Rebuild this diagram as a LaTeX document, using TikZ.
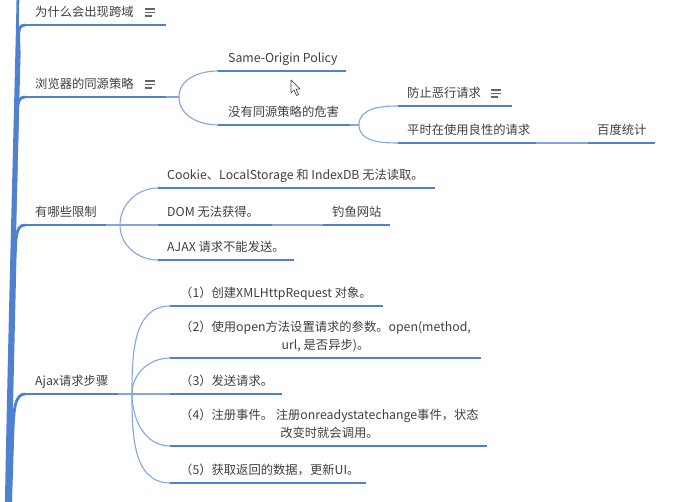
\documentclass[tikz,border=0pt]{standalone}
\usepackage{fontspec}
\setmainfont{Noto Sans CJK SC}
\definecolor{thickc}{RGB}{78,130,208}
\definecolor{thinc}{RGB}{132,166,222}
\definecolor{txtc}{RGB}{64,64,64}
\begin{document}
\begin{tikzpicture}[x=1pt,y=-1pt,
  lbl/.style={anchor=south west,inner sep=0pt,text depth=3pt,text=txtc,font=\fontsize{12.3}{18}\selectfont,align=center},
  under/.style={draw=thickc,line width=2.8pt},
  link/.style={draw=thinc,line width=1.1pt},
  trunk/.style={draw=thickc,line width=2.8pt},
  menuicon/.pic={\draw[line width=1.2pt,draw=black!60] (0,-16)--(10,-16) (0,-12.5)--(10,-12.5) (0,-9)--(7,-9);}
]
\useasboundingbox (0,0) rectangle (676,502);
\fill[white] (0,0) rectangle (676,502);
\begin{scope}
\clip (0,0) rectangle (676,502);
% ---------- coordinates ----------
\coordinate (b1s) at (25,25);  \coordinate (b1e) at (166,25);
\coordinate (b2s) at (25,97);  \coordinate (b2e) at (166,97);  \coordinate (j2) at (179,97);
\coordinate (b3s) at (25,225); \coordinate (b3e) at (106,225); \coordinate (j3) at (120,225);
\coordinate (b4s) at (25,394); \coordinate (b4e) at (118,394); \coordinate (j4) at (132,394);
\coordinate (k1) at (19,60);   \coordinate (r1) at (7,520);
\coordinate (k2) at (17,132);  \coordinate (r2) at (8,520);
\coordinate (k3) at (15,260);  \coordinate (r3) at (9,520);
\coordinate (k4) at (13,429);  \coordinate (r4) at (10,520);
\coordinate (top) at (18,-5);  \coordinate (r0) at (6,520);
% level 2 under branch 2
\coordinate (c21s) at (218,71);  \coordinate (c21e) at (346,71);
\coordinate (c22s) at (218,125); \coordinate (c22e) at (350,125); \coordinate (j22) at (359,125);
\coordinate (c221s) at (398,106); \coordinate (c221e) at (512,106);
\coordinate (c222s) at (398,143); \coordinate (c222e) at (536,143);
\coordinate (c223s) at (588,143); \coordinate (c223e) at (655,143);
% branch 3
\coordinate (c31s) at (158,188); \coordinate (c31e) at (435,188);
\coordinate (c32s) at (158,225); \coordinate (c32e) at (272,225);
\coordinate (c33s) at (323,225); \coordinate (c33e) at (390,225);
\coordinate (c34s) at (158,260); \coordinate (c34e) at (294,260);
% branch 4
\coordinate (s1s) at (170,306); \coordinate (s1e) at (383,306);
\coordinate (s2s) at (170,358); \coordinate (s2e) at (481,358);
\coordinate (s3s) at (170,394); \coordinate (s3e) at (282,394);
\coordinate (s4s) at (170,446); \coordinate (s4e) at (487,446);
\coordinate (s5s) at (170,483); \coordinate (s5e) at (366,483);
% ---------- trunk ----------
\draw[trunk] (top) .. controls (17,60) and (10,300) .. (r0);
\draw[trunk] (b1s) .. controls +(-10,0) and +(1,-20) .. (k1) -- (r1);
\draw[trunk] (b2s) .. controls +(-10,0) and +(1,-20) .. (k2) -- (r2);
\draw[trunk] (b3s) .. controls +(-10,0) and +(1,-20) .. (k3) -- (r3);
\draw[trunk] (b4s) .. controls +(-10,0) and +(1,-20) .. (k4) -- (r4);
\end{scope}
% ---------- underlines ----------
\foreach \a in {b1,b2,b3,b4,c21,c22,c221,c222,c223,c31,c32,c33,c34,s1,s2,s3,s4,s5}
  \draw[under] (\a s) -- (\a e);
% ---------- thin links ----------
\draw[link] (b2e) -- (j2);
\draw[link] (j2) to[out=90,in=180] (c21s);
\draw[link] (j2) to[out=-90,in=180] (c22s);
\draw[link] (c22e) -- (j22);
\draw[link] (j22) to[out=90,in=180] (c221s);
\draw[link] (j22) to[out=-90,in=180] (c222s);
\draw[link] (c222e) -- (c223s);
\draw[link] (b3e) -- (j3) -- (c32s);
\draw[link] (j3) to[out=90,in=180] (c31s);
\draw[link] (j3) to[out=-90,in=180] (c34s);
\draw[link] (c32e) -- (c33s);
\draw[link] (b4e) -- (j4) -- (s3s);
\draw[link] (j4) to[out=90,in=180] (s1s);
\draw[link] (j4) to[out=90,in=180] (s2s);
\draw[link] (j4) to[out=-90,in=180] (s4s);
\draw[link] (j4) to[out=-90,in=180] (s5s);
% ---------- labels ----------
\node[lbl] (t1) at (35,20) {为什么会出现跨域};
\pic at (145,25) {menuicon};
\node[lbl] (t2) at (35,92) {浏览器的同源策略};
\pic at (145,97) {menuicon};
\node[lbl] (t21) at (228,66) {Same-Origin Policy};
\node[lbl] (t22) at (228,120) {没有同源策略的危害};
\node[lbl] (t221) at (407,101) {防止恶行请求};
\pic at (491,106) {menuicon};
\node[lbl] (t222) at (407,138) {平时在使用良性的请求};
\node[lbl] (t223) at (597,138) {百度统计};
\node[lbl] (t3) at (35,220) {有哪些限制};
\node[lbl] (t31) at (167,183) {Cookie、LocalStorage 和 IndexDB 无法读取。};
\node[lbl] (t32) at (167,220) {DOM 无法获得。};
\node[lbl] (t33) at (332,220) {钓鱼网站};
\node[lbl] (t34) at (167,255) {AJAX 请求不能发送。};
\node[lbl] (t4) at (35,389) {Ajax请求步骤};
\node[lbl] (u1) at (180,301) {（1）创建XMLHttpRequest 对象。};
\node[lbl] (u2) at (180,353) {（2）使用open方法设置请求的参数。open(method,\\url, 是否异步)。};
\node[lbl] (u3) at (180,389) {（3）发送请求。};
\node[lbl] (u4) at (180,441) {（4）注册事件。 注册onreadystatechange事件，状态\\改变时就会调用。};
\node[lbl] (u5) at (180,478) {（5）获取返回的数据，更新UI。};
% ---------- mouse cursor ----------
\draw[fill=white,draw=black!70,line width=0.7pt,line join=round]
  (291,80) -- (291,93) -- (294,90) -- (296.5,95.5) -- (298.5,94.6) -- (296,89.2) -- (300,89) -- cycle;
\end{tikzpicture}
\end{document}
